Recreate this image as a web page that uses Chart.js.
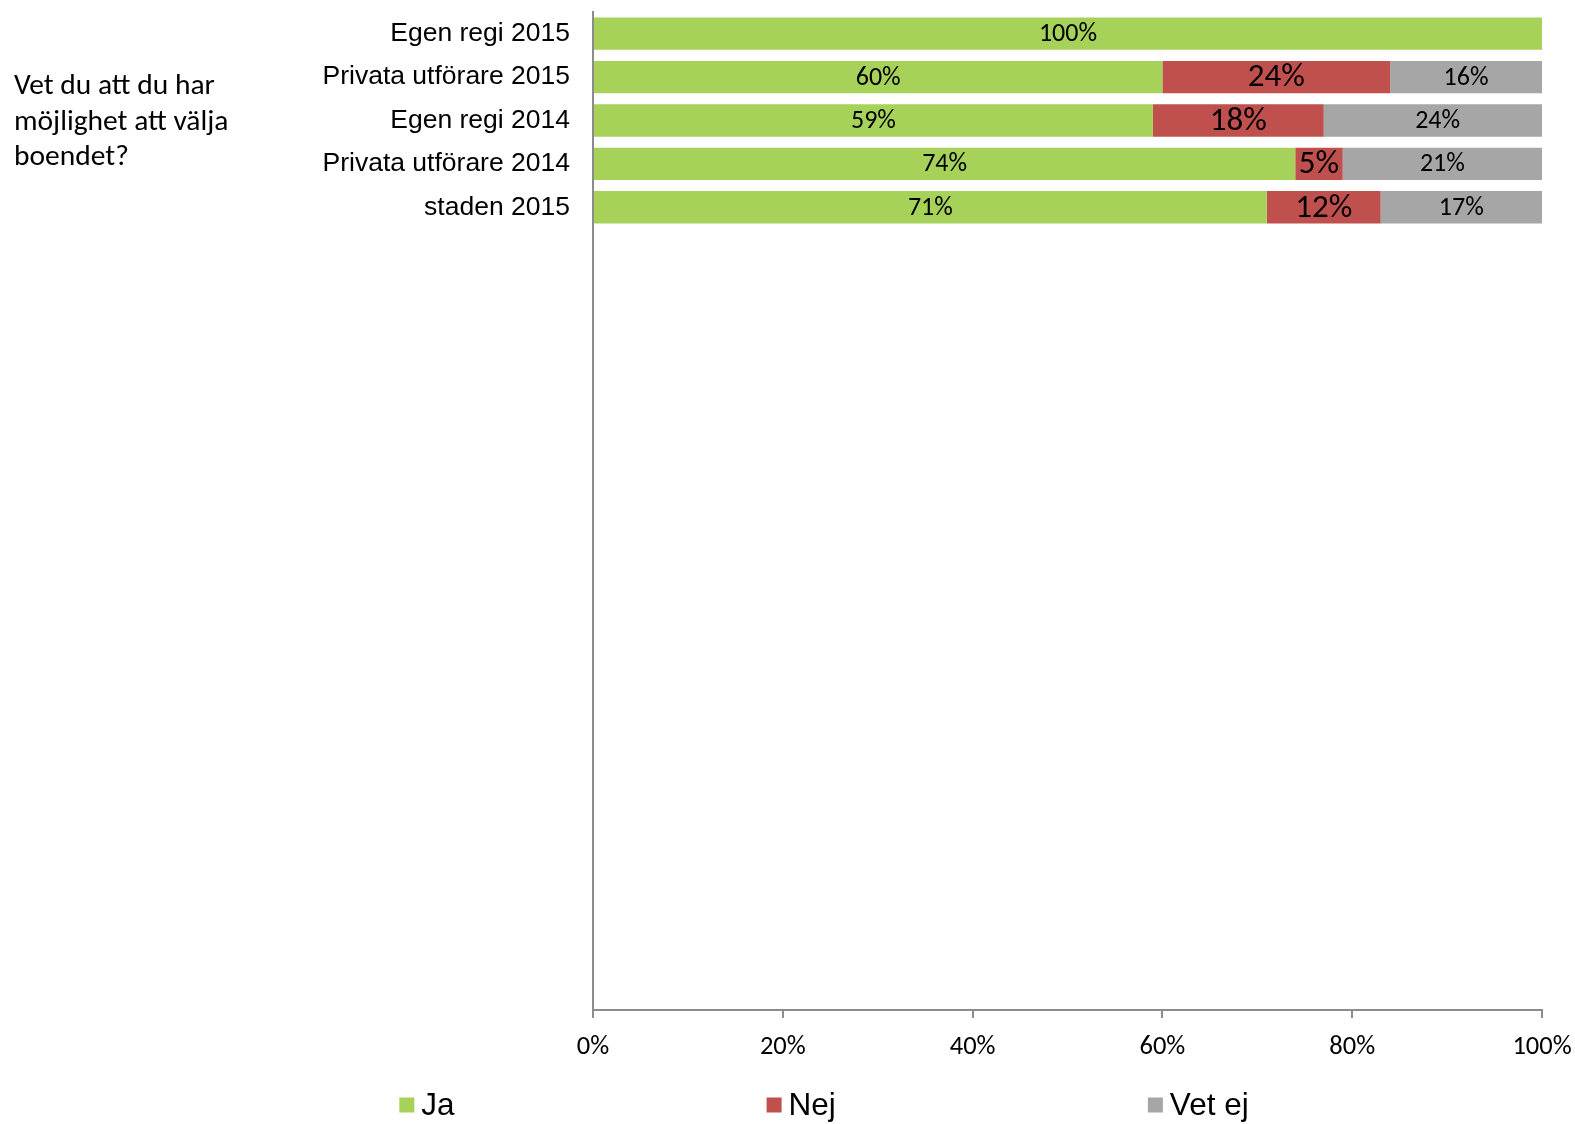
<!DOCTYPE html>
<html>
<head>
<meta charset="utf-8">
<style>
    body {
        margin: 0;
        background: #fff;
    }
    .wrap {
        position: relative;
        width: 1575px;
        height: 1124px;
    }
    .question {
        position: absolute;
        left: 14px;
        top: 67px;
        font-family: Carlito, Lato, sans-serif;
        font-size: 29.5px;
        line-height: 35.5px;
        color: #000;
    }
</style>
</head>
<body>
<div class="wrap">
    <canvas id="myChart" width="1575" height="1124"></canvas>
    <div class="question">Vet du att du har<br>möjlighet att välja<br>boendet?</div>
</div>

<script src="https://cdn.jsdelivr.net/npm/chart.js@4"></script>
<script>

    // groups shown as bars, the rest of the category slots stay empty
    const groups = ['Egen regi 2015', 'Privata utförare 2015', 'Egen regi 2014', 'Privata utförare 2014', 'staden 2015']
    const slotCount = 23

    const ja = [100, 60, 59, 74, 71]
    const nej = [0, 24, 18, 5, 12]
    const vetEj = [0, 16, 24, 21, 17]

    const seriesNames = ['Ja', 'Nej', 'Vet ej']
    const seriesColors = ['#A7D25A', '#C0504D', '#A6A6A6']
    const xTicks = [0, 20, 40, 60, 80, 100]

    const labels = groups.slice()
    while (labels.length < slotCount) labels.push('')

    const valueFont = 'Carlito, Lato, sans-serif'

    // value text in the middle of each segment, the "Nej" ones bigger
    const segmentLabels = {
        id: 'segmentLabels',
        afterDatasetsDraw(chart) {
            const ctx = chart.ctx
            ctx.save()
            ctx.fillStyle = '#000'
            ctx.textAlign = 'center'
            ctx.textBaseline = 'middle'
            chart.data.datasets.forEach((ds, i) => {
                const meta = chart.getDatasetMeta(i)
                ctx.font = (i === 1 ? '33px ' : '26px ') + valueFont
                meta.data.forEach((bar, j) => {
                    const v = ds.data[j]
                    if (!v) return
                    ctx.fillText(v + '%', (bar.x + bar.base) / 2, bar.y + 1)
                })
            })
            ctx.restore()
        }
    }

    // wide legend under the axis
    const bottomLegend = {
        id: 'bottomLegend',
        afterDraw(chart) {
            const ctx = chart.ctx
            const box = 15, gapText = 7, gapItem = 312
            const y = 1105
            ctx.save()
            ctx.font = '31.5px "Liberation Sans", Arial, sans-serif'
            ctx.textBaseline = 'middle'
            const items = chart.data.datasets.map(ds => {
                return { text: ds.label, color: ds.backgroundColor, w: box + gapText + ctx.measureText(ds.label).width }
            })
            const total = items.reduce((s, it) => s + it.w, 0) + gapItem * (items.length - 1)
            let x = 824 - total / 2
            items.forEach(it => {
                ctx.fillStyle = it.color
                ctx.fillRect(x, y - box / 2, box, box)
                ctx.fillStyle = '#000'
                ctx.fillText(it.text, x + box + gapText, y + 1)
                x += it.w + gapItem
            })
            ctx.restore()
        }
    }

    var ctx = document.getElementById('myChart').getContext('2d');
    var chart = new Chart(ctx, {
        type: 'bar',
        data: {
            labels: labels,
            datasets: [ja, nej, vetEj].map((d, i) => ({
                label: seriesNames[i],
                data: d,
                backgroundColor: seriesColors[i],
                borderWidth: 0,
                barPercentage: 0.745,
                categoryPercentage: 1
            }))
        },
        options: {
            indexAxis: 'y',
            responsive: false,
            maintainAspectRatio: false,
            animation: false,
            layout: {
                padding: { top: 12, right: 33, left: 0, bottom: 0 }
            },
            plugins: {
                legend: { display: false },
                tooltip: { enabled: false }
            },
            scales: {
                x: {
                    stacked: true,
                    min: 0,
                    max: 100,
                    afterBuildTicks(scale) {
                        scale.ticks = xTicks.map(v => ({ value: v }))
                    },
                    afterFit(scale) {
                        scale.height = 114
                        scale.paddingLeft = 0
                        scale.paddingRight = 0
                    },
                    border: { display: true, color: '#8C8C8C', width: 2 },
                    grid: {
                        drawOnChartArea: false,
                        drawTicks: true,
                        tickLength: 8,
                        color: '#8C8C8C',
                        lineWidth: 2
                    },
                    ticks: {
                        padding: 13,
                        color: '#000',
                        maxRotation: 0,
                        font: { family: valueFont, size: 26.5 },
                        callback: v => v + '%'
                    }
                },
                y: {
                    stacked: true,
                    afterFit(scale) {
                        scale.width = 593
                        scale.paddingTop = 0
                        scale.paddingBottom = 0
                    },
                    border: { display: true, color: '#8C8C8C', width: 2 },
                    grid: { drawOnChartArea: false, drawTicks: false },
                    ticks: {
                        autoSkip: false,
                        padding: 23,
                        color: '#000',
                        font: { family: '"Liberation Sans", Arial, sans-serif', size: 26.5 }
                    }
                }
            }
        },
        plugins: [segmentLabels, bottomLegend]
    });

</script>
</body>
</html>
